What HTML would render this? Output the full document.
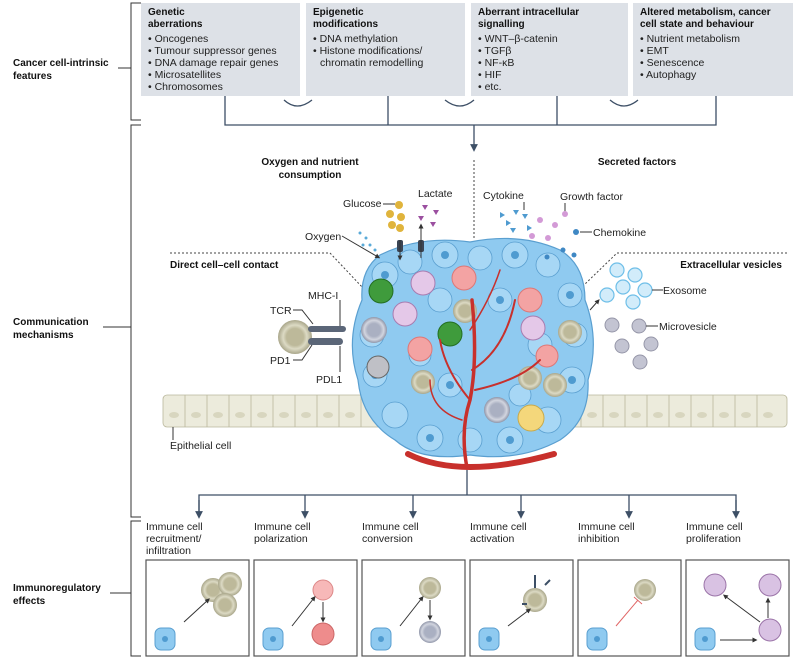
<!DOCTYPE html>
<html><head><meta charset="utf-8"><style>
body{margin:0;background:#fff;}
svg{display:block;font-family:"Liberation Sans",sans-serif;}
.t{font-size:10.5px;fill:#222}
.b{font-size:10px;font-weight:bold;fill:#111}
.bx{fill:#dde1e7}
.ln{stroke:#3d4f66;stroke-width:1.3;fill:none}
.k{stroke:#333;stroke-width:1;fill:none}
</style></head><body>
<svg width="800" height="661" viewBox="0 0 800 661">
<defs>
<marker id="ar" markerWidth="6" markerHeight="6" refX="3" refY="3" orient="auto"><path d="M0,0 L6,3 L0,6 z" fill="#3d4f66"/></marker>
<marker id="ak" markerWidth="5" markerHeight="5" refX="2.5" refY="2.5" orient="auto"><path d="M0,0 L5,2.5 L0,5 z" fill="#333"/></marker>
<radialGradient id="tc"><stop offset="0.5" stop-color="#bdb99a"/><stop offset="0.7" stop-color="#dcdac4"/><stop offset="1" stop-color="#a9a68a"/></radialGradient>
<radialGradient id="gc"><stop offset="0.5" stop-color="#aab0c2"/><stop offset="0.75" stop-color="#d2d5df"/><stop offset="1" stop-color="#8f95a8"/></radialGradient>
</defs>
<!-- left brackets -->
<g class="k" stroke="#333">
<path d="M141,3 H131 V120 H141"/><path d="M118,68 H131"/>
<path d="M141,125 H131 V517 H141"/><path d="M103,327 H131"/>
<path d="M141,521 H131 V656 H141"/><path d="M110,593 H131"/>
</g>
<text class="b" x="13" y="66">Cancer cell-intrinsic</text><text class="b" x="13" y="79">features</text>
<text class="b" x="13" y="325">Communication</text><text class="b" x="13" y="338">mechanisms</text>
<text class="b" x="13" y="591">Immunoregulatory</text><text class="b" x="13" y="604">effects</text>
<!-- top boxes -->
<rect class="bx" x="141" y="3" width="159" height="93"/>
<rect class="bx" x="306" y="3" width="159" height="93"/>
<rect class="bx" x="471" y="3" width="157" height="93"/>
<rect class="bx" x="633" y="3" width="160" height="93"/>
<g class="b"><text x="148" y="15">Genetic</text><text x="148" y="27">aberrations</text>
<text x="313" y="15">Epigenetic</text><text x="313" y="27">modifications</text>
<text x="478" y="15">Aberrant intracellular</text><text x="478" y="27">signalling</text>
<text x="640" y="15">Altered metabolism, cancer</text><text x="640" y="27">cell state and behaviour</text></g>
<g class="t"><text x="148" y="42">• Oncogenes</text><text x="148" y="54">• Tumour suppressor genes</text><text x="148" y="66">• DNA damage repair genes</text><text x="148" y="78">• Microsatellites</text><text x="148" y="90">• Chromosomes</text>
<text x="313" y="42">• DNA methylation</text><text x="313" y="54">• Histone modifications/</text><text x="320" y="66">chromatin remodelling</text>
<text x="478" y="42">• WNT–β-catenin</text><text x="478" y="54">• TGFβ</text><text x="478" y="66">• NF-κB</text><text x="478" y="78">• HIF</text><text x="478" y="90">• etc.</text>
<text x="640" y="42">• Nutrient metabolism</text><text x="640" y="54">• EMT</text><text x="640" y="66">• Senescence</text><text x="640" y="78">• Autophagy</text></g>
<g class="ln"><path d="M284,100 Q297,112 312,100"/><path d="M445,100 Q460,112 474,100"/><path d="M610,100 Q624,112 638,100"/>
<path d="M225,96 V125 H716 V96"/><path d="M388,96 V125"/><path d="M557,96 V125"/><path d="M474,125 V148" marker-end="url(#ar)"/></g>
<!-- section headings -->
<text class="b" x="310" y="165" text-anchor="middle">Oxygen and nutrient</text><text class="b" x="310" y="178" text-anchor="middle">consumption</text>
<text class="b" x="637" y="165" text-anchor="middle">Secreted factors</text>
<text class="b" x="170" y="268">Direct cell–cell contact</text>
<text class="b" x="782" y="268" text-anchor="end">Extracellular vesicles</text>
<g stroke="#444" stroke-dasharray="2,2" fill="none"><path d="M474,160 V240"/><path d="M170,253 H330 L363,288"/><path d="M787,253 H617 L584,285"/></g>
<!-- epithelium -->
<g fill="#ecebdc" stroke="#b9b79c" stroke-width="0.8">
<rect x="163" y="395" width="624" height="32" rx="4"/></g>
<g stroke="#b9b79c" stroke-width="0.8" fill="#d8d6bf">
<path d="M185,395V427M207,395V427M229,395V427M251,395V427M273,395V427M295,395V427M317,395V427M339,395V427M361,395V427M383,395V427M581,395V427M603,395V427M625,395V427M647,395V427M669,395V427M691,395V427M713,395V427M735,395V427M757,395V427"/>
<g stroke="none"><ellipse cx="174" cy="415" rx="5" ry="3"/><ellipse cx="196" cy="415" rx="5" ry="3"/><ellipse cx="218" cy="415" rx="5" ry="3"/><ellipse cx="240" cy="415" rx="5" ry="3"/><ellipse cx="262" cy="415" rx="5" ry="3"/><ellipse cx="284" cy="415" rx="5" ry="3"/><ellipse cx="306" cy="415" rx="5" ry="3"/><ellipse cx="328" cy="415" rx="5" ry="3"/><ellipse cx="350" cy="415" rx="5" ry="3"/><ellipse cx="592" cy="415" rx="5" ry="3"/><ellipse cx="614" cy="415" rx="5" ry="3"/><ellipse cx="636" cy="415" rx="5" ry="3"/><ellipse cx="658" cy="415" rx="5" ry="3"/><ellipse cx="680" cy="415" rx="5" ry="3"/><ellipse cx="702" cy="415" rx="5" ry="3"/><ellipse cx="724" cy="415" rx="5" ry="3"/><ellipse cx="746" cy="415" rx="5" ry="3"/><ellipse cx="768" cy="415" rx="5" ry="3"/></g></g>
<path class="k" d="M173,427 V440"/><text class="t" x="170" y="449">Epithelial cell</text>
<!-- tumour blob -->
<path d="M380,255 Q420,235 470,242 Q520,232 560,250 Q585,265 585,300 Q600,340 588,380 Q590,420 560,440 Q520,462 470,455 Q420,462 395,440 Q362,420 358,380 Q345,340 362,300 Q360,270 380,255 z" fill="#8fcaf0" stroke="#5a9fd0" stroke-width="1.2"/>
<g fill="#a7d7f5" stroke="#5a9fd0" stroke-width="0.8">
<circle cx="385" cy="275" r="13"/><circle cx="410" cy="262" r="12"/><circle cx="445" cy="255" r="13"/><circle cx="480" cy="258" r="12"/><circle cx="515" cy="255" r="13"/><circle cx="548" cy="265" r="12"/><circle cx="570" cy="295" r="12"/><circle cx="575" cy="335" r="12"/><circle cx="572" cy="380" r="13"/><circle cx="548" cy="420" r="13"/><circle cx="510" cy="440" r="13"/><circle cx="470" cy="440" r="12"/><circle cx="430" cy="438" r="13"/><circle cx="395" cy="415" r="13"/><circle cx="375" cy="375" r="12"/><circle cx="372" cy="335" r="12"/><circle cx="440" cy="300" r="12"/><circle cx="500" cy="300" r="12"/><circle cx="450" cy="385" r="12"/><circle cx="540" cy="345" r="12"/><circle cx="420" cy="355" r="11"/><circle cx="520" cy="395" r="11"/></g>
<g fill="#4f9bd0"><circle cx="385" cy="275" r="4"/><circle cx="445" cy="255" r="4"/><circle cx="515" cy="255" r="4"/><circle cx="570" cy="295" r="4"/><circle cx="572" cy="380" r="4"/><circle cx="510" cy="440" r="4"/><circle cx="430" cy="438" r="4"/><circle cx="375" cy="375" r="4"/><circle cx="500" cy="300" r="4"/><circle cx="450" cy="385" r="4"/></g>
<!-- immune cells in tumour -->
<circle cx="381" cy="291" r="12" fill="#3f9b3c" stroke="#236e22"/><circle cx="450" cy="334" r="12" fill="#3f9b3c" stroke="#236e22"/>
<circle cx="374" cy="330" r="13" fill="url(#gc)"/><circle cx="497" cy="410" r="13" fill="url(#gc)"/>
<circle cx="465" cy="311" r="12" fill="url(#tc)"/><circle cx="423" cy="382" r="12" fill="url(#tc)"/><circle cx="570" cy="332" r="12" fill="url(#tc)"/><circle cx="530" cy="378" r="12" fill="url(#tc)"/><circle cx="555" cy="385" r="12" fill="url(#tc)"/>
<circle cx="531" cy="418" r="13" fill="#f4d77b" stroke="#c8a94a"/>
<circle cx="378" cy="367" r="11" fill="#bfc0c6" stroke="#666"/>
<g fill="#f3a3a3" stroke="#d77"><circle cx="464" cy="278" r="12"/><circle cx="420" cy="349" r="12"/><circle cx="530" cy="300" r="12"/><circle cx="547" cy="356" r="11"/></g>
<g fill="#e4c8e8" stroke="#a77cb0"><circle cx="423" cy="283" r="12"/><circle cx="405" cy="314" r="12"/><circle cx="533" cy="328" r="12"/></g>
<!-- vessels -->
<g stroke="#c8302c" fill="none" stroke-linecap="round">
<path d="M408,454 Q460,480 554,454" stroke-width="6"/>
<path d="M467,468 Q460,430 470,400 Q478,360 472,300" stroke-width="3.5"/>
<path d="M470,400 Q445,370 440,340" stroke-width="2"/><path d="M472,370 Q505,350 515,300" stroke-width="2"/>
<path d="M475,390 Q520,380 540,360" stroke-width="2"/><path d="M470,330 Q490,300 500,270" stroke-width="1.5"/>
<path d="M462,420 Q430,410 430,380" stroke-width="1.5"/></g>
<!-- cell contact -->
<circle cx="295" cy="337" r="17" fill="url(#tc)"/>
<g fill="#5b6678"><rect x="308" y="326" width="38" height="6" rx="3"/><rect x="308" y="338" width="35" height="7" rx="3.5"/></g>
<g class="k"><path d="M293,310 H302 L313,324"/><path d="M340,300 V326"/><path d="M293,360 H302 L312,345"/><path d="M340,346 V372"/></g>
<text class="t" x="270" y="314">TCR</text><text class="t" x="308" y="299">MHC-I</text><text class="t" x="270" y="364">PD1</text><text class="t" x="316" y="383">PDL1</text>
<!-- nutrients -->
<text class="t" x="343" y="207">Glucose</text><text class="t" x="418" y="197">Lactate</text><text class="t" x="305" y="240">Oxygen</text>
<g fill="#e0b43c"><circle cx="399" cy="205" r="4"/><circle cx="390" cy="214" r="4"/><circle cx="401" cy="217" r="4"/><circle cx="392" cy="225" r="4"/><circle cx="400" cy="228" r="4"/></g>
<path class="k" d="M383,204 H395"/>
<g fill="#9b4fa0"><path d="M422,205 l6,0 -3,5z"/><path d="M433,210 l6,0 -3,5z"/><path d="M418,216 l6,0 -3,5z"/><path d="M430,222 l6,0 -3,5z"/></g>
<g fill="#5aaad8"><circle cx="360" cy="233" r="1.5"/><circle cx="366" cy="238" r="1.5"/><circle cx="370" cy="245" r="1.5"/><circle cx="375" cy="250" r="1.5"/><circle cx="363" cy="245" r="1.5"/></g>
<path class="k" d="M342,236 L378,257" marker-end="url(#ak)"/>
<g fill="#3a4454"><rect x="397" y="240" width="6" height="12" rx="2"/><rect x="418" y="240" width="6" height="12" rx="2"/></g>
<path class="k" d="M400,240 V258" marker-end="url(#ak)"/><path class="k" d="M421,258 V226" marker-end="url(#ak)"/>
<!-- secreted -->
<text class="t" x="483" y="199">Cytokine</text><text class="t" x="560" y="200">Growth factor</text><text class="t" x="593" y="236">Chemokine</text>
<path class="k" d="M524,202 V210"/><path class="k" d="M565,203 V212"/><path class="k" d="M580,232 H592"/>
<g fill="#4f9bd0"><path d="M500,212 l5,3 -5,3z"/><path d="M513,210 l6,0 -3,5z"/><path d="M506,220 l5,3 -5,3z"/><path d="M522,214 l6,0 -3,5z"/><path d="M510,228 l6,0 -3,5z"/><path d="M527,225 l5,3 -5,3z"/></g>
<g fill="#d39ad6"><circle cx="565" cy="214" r="3"/><circle cx="540" cy="220" r="3"/><circle cx="555" cy="225" r="3"/><circle cx="532" cy="236" r="3"/><circle cx="548" cy="238" r="3"/></g>
<g fill="#3f88c4"><circle cx="576" cy="232" r="3"/><circle cx="563" cy="250" r="2.5"/><circle cx="574" cy="255" r="2.5"/><circle cx="547" cy="257" r="2.5"/></g>
<!-- vesicles -->
<g fill="#d2ecfa" stroke="#6fbfe8" stroke-width="1.2"><circle cx="617" cy="270" r="7"/><circle cx="635" cy="275" r="7"/><circle cx="623" cy="287" r="7"/><circle cx="645" cy="290" r="7"/><circle cx="607" cy="295" r="7"/><circle cx="633" cy="302" r="7"/></g>
<path class="k" d="M652,290 H663"/><text class="t" x="663" y="294">Exosome</text>
<g fill="#c3c4d2" stroke="#9596a8"><circle cx="612" cy="325" r="7"/><circle cx="639" cy="326" r="7"/><circle cx="622" cy="346" r="7"/><circle cx="651" cy="344" r="7"/><circle cx="640" cy="362" r="7"/></g>
<path class="k" d="M646,326 H658"/><text class="t" x="659" y="330">Microvesicle</text>
<path class="k" d="M590,310 L598,301" marker-end="url(#ak)"/>
<!-- bottom connectors -->
<g class="ln"><path d="M467,470 V495"/><path d="M199,515 V495 H736 V515"/>
<path d="M199,500 V515" marker-end="url(#ar)"/><path d="M305,495 V515" marker-end="url(#ar)"/><path d="M413,495 V515" marker-end="url(#ar)"/><path d="M521,495 V515" marker-end="url(#ar)"/><path d="M629,495 V515" marker-end="url(#ar)"/><path d="M736,500 V515" marker-end="url(#ar)"/></g>
<g class="t"><text x="146" y="530">Immune cell</text><text x="146" y="542">recruitment/</text><text x="146" y="554">infiltration</text>
<text x="254" y="530">Immune cell</text><text x="254" y="542">polarization</text>
<text x="362" y="530">Immune cell</text><text x="362" y="542">conversion</text>
<text x="470" y="530">Immune cell</text><text x="470" y="542">activation</text>
<text x="578" y="530">Immune cell</text><text x="578" y="542">inhibition</text>
<text x="686" y="530">Immune cell</text><text x="686" y="542">proliferation</text></g>
<g fill="#fff" stroke="#555" stroke-width="1.2"><rect x="146" y="560" width="103" height="96"/><rect x="254" y="560" width="103" height="96"/><rect x="362" y="560" width="103" height="96"/><rect x="470" y="560" width="103" height="96"/><rect x="578" y="560" width="103" height="96"/><rect x="686" y="560" width="103" height="96"/></g>
<g fill="#8fcaf0" stroke="#5a9fd0"><rect x="155" y="628" width="20" height="22" rx="6"/><rect x="263" y="628" width="20" height="22" rx="6"/><rect x="371" y="628" width="20" height="22" rx="6"/><rect x="479" y="628" width="20" height="22" rx="6"/><rect x="587" y="628" width="20" height="22" rx="6"/><rect x="695" y="628" width="20" height="22" rx="6"/></g>
<g fill="#4f9bd0"><circle cx="165" cy="639" r="3"/><circle cx="273" cy="639" r="3"/><circle cx="381" cy="639" r="3"/><circle cx="489" cy="639" r="3"/><circle cx="597" cy="639" r="3"/><circle cx="705" cy="639" r="3"/></g>
<circle cx="213" cy="590" r="12" fill="url(#tc)"/><circle cx="230" cy="584" r="12" fill="url(#tc)"/><circle cx="225" cy="605" r="12" fill="url(#tc)"/>
<circle cx="323" cy="590" r="10" fill="#f7b8b8" stroke="#d88"/><circle cx="323" cy="634" r="11" fill="#ee8c8c" stroke="#c66"/>
<circle cx="430" cy="588" r="11" fill="url(#tc)"/><circle cx="430" cy="632" r="11" fill="url(#gc)"/>
<circle cx="535" cy="600" r="12" fill="url(#tc)"/><path d="M535,575 V588 M522,604 H527 M545,585 L550,580" stroke="#3d4f66" stroke-width="2"/>
<circle cx="645" cy="590" r="11" fill="url(#tc)"/>
<g fill="#d9c2e3" stroke="#9b74a8"><circle cx="715" cy="585" r="11"/><circle cx="770" cy="585" r="11"/><circle cx="770" cy="630" r="11"/></g>
<g class="k"><path d="M184,622 L208,600" marker-end="url(#ak)"/><path d="M292,626 L314,598" marker-end="url(#ak)"/><path d="M323,602 V620" marker-end="url(#ak)"/><path d="M400,626 L422,598" marker-end="url(#ak)"/><path d="M430,600 V618" marker-end="url(#ak)"/><path d="M508,626 L529,610" marker-end="url(#ak)"/><path d="M720,640 H755" marker-end="url(#ak)"/><path d="M768,618 V600" marker-end="url(#ak)"/><path d="M760,622 L725,596" marker-end="url(#ak)"/></g>
<path d="M616,626 L638,600 M634,597 L642,604" stroke="#e06666" stroke-width="1"/>
</svg>
</body></html>
